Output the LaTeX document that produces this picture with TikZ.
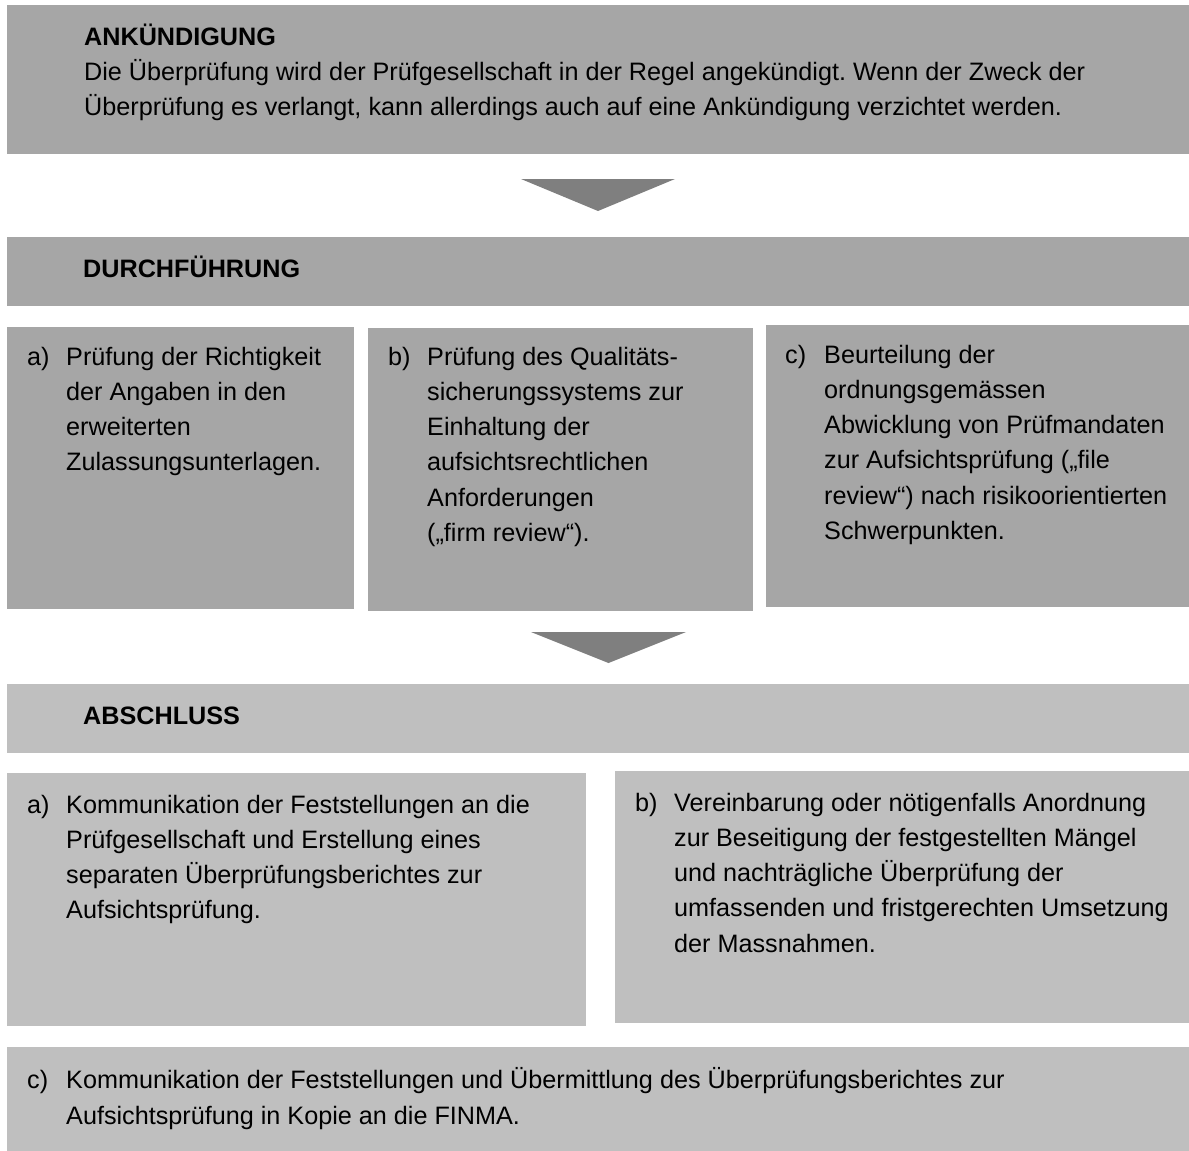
\documentclass[tikz,border=0pt]{standalone}
\usepackage{fontspec}
\setmainfont{Liberation Sans}
\usetikzlibrary{positioning}
\definecolor{panelgray}{HTML}{A6A6A6}
\definecolor{closegray}{HTML}{BFBFBF}
\definecolor{arrowgray}{HTML}{7F7F7F}
\newcommand{\txtsize}{\fontsize{25.2}{35.2}\selectfont\frenchspacing}

\begin{document}
\begin{tikzpicture}[x=1pt, y=1pt,
    box/.style={anchor=north west, inner sep=0pt, outer sep=0pt, draw=none},
    upper/.style={box, fill=panelgray},
    lower/.style={box, fill=closegray},
    txt/.style={anchor=north west, inner sep=0pt, align=left, font=\txtsize},
    pfeil/.style={fill=arrowgray}]
        \useasboundingbox (0,0) rectangle (1189,-1151);

        % Ankuendigung
        \node (Ankuendigung) [upper, minimum width=1182, minimum height=149] at (7,-5) {};
        \node (AnkuendigungText) [txt] at ([xshift=77, yshift=-15.4]Ankuendigung.north west) {\strut\textbf{ANKÜNDIGUNG}\\
            Die Überprüfung wird der Prüfgesellschaft in der Regel angekündigt. Wenn der Zweck der\\
            Überprüfung es verlangt, kann allerdings auch auf eine Ankündigung verzichtet werden.};

        % Arrow down
        \fill[pfeil] ([xshift=-77, yshift=-25]Ankuendigung.south) -- ([xshift=77, yshift=-25]Ankuendigung.south) -- ([yshift=-57]Ankuendigung.south) -- cycle;

        % Durchfuehrung
        \node (Durchfuehrung) [upper, minimum width=1182, minimum height=69] at (7,-237) {};
        \node (DurchfuehrungText) [txt] at ([xshift=76, yshift=-15.4]Durchfuehrung.north west) {\strut\textbf{DURCHFÜHRUNG}};

        % Step a
        \node (PruefungA) [upper, minimum width=347, minimum height=282] at (7,-327) {};
        \node (PruefungALabel) [txt] at ([xshift=20, yshift=-13.4]PruefungA.north west) {\strut a)};
        \node (PruefungAText) [txt] at ([xshift=59, yshift=-13.4]PruefungA.north west) {\strut Prüfung der Richtigkeit\\
            der Angaben in den\\ erweiterten\\ Zulassungsunterlagen.};

        % Step b
        \node (PruefungB) [upper, minimum width=385, minimum height=283] at (368,-328) {};
        \node (PruefungBLabel) [txt] at ([xshift=20, yshift=-12.4]PruefungB.north west) {\strut b)};
        \node (PruefungBText) [txt] at ([xshift=59, yshift=-12.4]PruefungB.north west) {\strut Prüfung des Qualitäts-\\
            sicherungssystems zur\\ Einhaltung der\\ aufsichtsrechtlichen\\ Anforderungen\\ („firm review“).};

        % Step c
        \node (PruefungC) [upper, minimum width=423, minimum height=282] at (766,-325) {};
        \node (PruefungCLabel) [txt] at ([xshift=19, yshift=-13.4]PruefungC.north west) {\strut c)};
        \node (PruefungCText) [txt] at ([xshift=58, yshift=-13.4]PruefungC.north west) {\strut Beurteilung der\\
            ordnungsgemässen\\ Abwicklung von Prüfmandaten\\ zur Aufsichtsprüfung („file\\
            review“) nach risikoorientierten\\ Schwerpunkten.};

        % Abschluss
        \node (Abschluss) [lower, minimum width=1182, minimum height=69] at (7,-684) {};
        \node (AbschlussText) [txt] at ([xshift=76, yshift=-15.4]Abschluss.north west) {\strut\textbf{ABSCHLUSS}};

        % Arrow down
        \fill[pfeil] ([xshift=-67, yshift=52]Abschluss.north) -- ([xshift=88, yshift=52]Abschluss.north) -- ([xshift=10.5, yshift=21]Abschluss.north) -- cycle;

        % Closing a
        \node (AbschlussA) [lower, minimum width=579, minimum height=253] at (7,-773) {};
        \node (AbschlussALabel) [txt] at ([xshift=20, yshift=-15.4]AbschlussA.north west) {\strut a)};
        \node (AbschlussAText) [txt] at ([xshift=59, yshift=-15.4]AbschlussA.north west) {\strut Kommunikation der Feststellungen an die\\
            Prüfgesellschaft und Erstellung eines\\ separaten Überprüfungsberichtes zur\\ Aufsichtsprüfung.};

        % Closing b
        \node (AbschlussB) [lower, minimum width=574, minimum height=252] at (615,-771) {};
        \node (AbschlussBLabel) [txt] at ([xshift=20, yshift=-15.4]AbschlussB.north west) {\strut b)};
        \node (AbschlussBText) [txt] at ([xshift=59, yshift=-15.4]AbschlussB.north west) {\strut Vereinbarung oder nötigenfalls Anordnung\\
            zur Beseitigung der festgestellten Mängel\\ und nachträgliche Überprüfung der\\
            umfassenden und fristgerechten Umsetzung\\ der Massnahmen.};

        % Closing c
        \node (AbschlussC) [lower, minimum width=1182, minimum height=104] at (7,-1047) {};
        \node (AbschlussCLabel) [txt] at ([xshift=20, yshift=-17]AbschlussC.north west) {\strut c)};
        \node (AbschlussCText) [txt] at ([xshift=59, yshift=-17]AbschlussC.north west) {\strut Kommunikation der Feststellungen und Übermittlung des Überprüfungsberichtes zur\\
            Aufsichtsprüfung in Kopie an die FINMA.};
\end{tikzpicture}
\end{document}
